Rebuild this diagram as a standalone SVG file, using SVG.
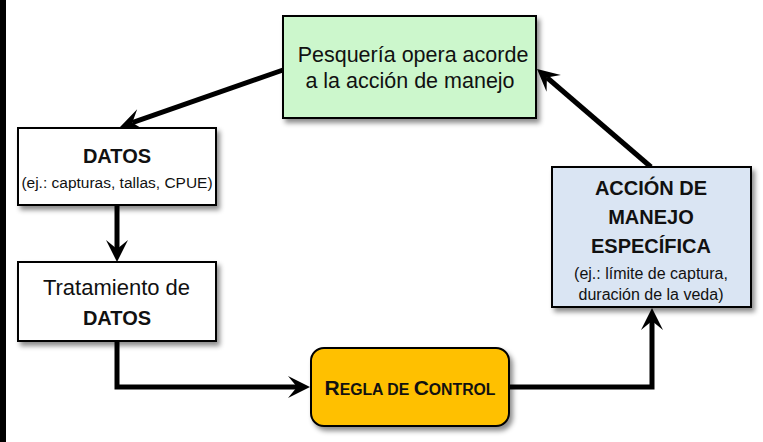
<svg xmlns="http://www.w3.org/2000/svg" width="763" height="442" viewBox="0 0 763 442">
  <style>
    .box { stroke: #000; stroke-width: 2; filter: url(#shadow); }
    .t { font-family: "Liberation Sans", Arial, sans-serif; fill: #111; text-anchor: middle; }
    .b { font-weight: bold; }
    .conn { fill: none; stroke: #000; stroke-width: 5; stroke-linejoin: miter; marker-end: url(#arrow); }
  </style>
  <defs>
    <filter id="shadow" x="-10%" y="-10%" width="130%" height="140%">
      <feDropShadow dx="3" dy="4" stdDeviation="2.5" flood-color="#000" flood-opacity="0.45"/>
    </filter>
    <marker id="arrow" markerUnits="userSpaceOnUse" viewBox="-23 -12 24 24" refX="-13" refY="0" markerWidth="24" markerHeight="24" orient="auto">
      <path d="M-22,-11 L0,0 L-22,11 L-13,0 Z" fill="#000"/>
    </marker>
  </defs>
  <rect x="0" y="0" width="763" height="442" fill="#fff"/>
  <rect x="0" y="0" width="6" height="442" fill="#000"/>

  <g id="connectors">
    <path class="conn" d="M283,70 L132.3,122.7"/>
    <path class="conn" d="M117,205 L117,249"/>
    <path class="conn" d="M117,341 V387 H297"/>
    <path class="conn" d="M509,387 H652 V321"/>
    <path class="conn" d="M651,167 L546.9,77.5"/>
  </g>

  <g id="pesqueria">
    <rect class="box" x="283" y="16" width="253" height="102" fill="#ccf7cc"/>
    <text class="t" x="413" y="61.5" font-size="21.5">Pesquería opera acorde</text>
    <text class="t" x="410" y="87.5" font-size="21.5">a la acción de manejo</text>
  </g>

  <g id="datos">
    <rect class="box" x="18" y="128" width="198" height="77" fill="#fff"/>
    <text class="t b" x="117" y="163" font-size="20">DATOS</text>
    <text class="t" x="117" y="188" font-size="15.5">(ej.: capturas, tallas, CPUE)</text>
  </g>

  <g id="tratamiento">
    <rect class="box" x="18" y="262" width="198" height="79" fill="#fff"/>
    <text class="t" x="116.5" y="295" font-size="22">Tratamiento de</text>
    <text class="t b" x="117" y="325" font-size="20">DATOS</text>
  </g>

  <g id="regla">
    <rect class="box" x="311" y="348" width="198" height="78" rx="13" ry="13" fill="#ffc000"/>
    <text class="t b" x="410" y="395"><tspan font-size="21">R</tspan><tspan font-size="15.8">EGLA DE </tspan><tspan font-size="21">C</tspan><tspan font-size="15.8">ONTROL</tspan></text>
  </g>

  <g id="accion">
    <rect class="box" x="552" y="167" width="199" height="140" fill="#dae5f3"/>
    <text class="t b" x="651" y="195" font-size="20">ACCIÓN DE</text>
    <text class="t b" x="651" y="224" font-size="20">MANEJO</text>
    <text class="t b" x="651" y="253" font-size="20">ESPECÍFICA</text>
    <text class="t" x="651" y="279" font-size="16">(ej.: límite de captura,</text>
    <text class="t" x="651" y="300" font-size="16">duración de la veda)</text>
  </g>
</svg>
